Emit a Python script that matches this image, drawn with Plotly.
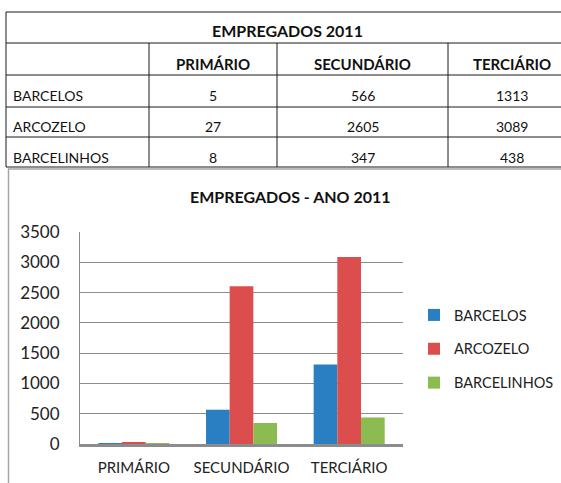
import plotly.graph_objects as go

# ---- data ----
categories = ["PRIMÁRIO", "SECUNDÁRIO", "TERCIÁRIO"]
series_names = ["BARCELOS", "ARCOZELO", "BARCELINHOS"]
barcelos = [5, 566, 1313]
arcozelo = [27, 2605, 3089]
barcelinhos = [8, 347, 438]
series_values = [barcelos, arcozelo, barcelinhos]
table_title = "EMPREGADOS 2011"
chart_title = "EMPREGADOS - ANO 2011"
y_ticks = [0, 500, 1000, 1500, 2000, 2500, 3000, 3500]

colors = ["#2A7FC3", "#DC4E4E", "#8CBB51"]

W, H = 561, 483
FONT = "Lato"


def px(x):
    return x / W


def py(y):
    return 1 - y / H


fig = go.Figure()
for i, (name, vals) in enumerate(zip(series_names, series_values)):
    fig.add_trace(go.Bar(
        x=categories, y=vals, name=name, marker_color=colors[i],
        marker_line_width=0, legendgroup=name,
    ))

shapes = []
annotations = []

# ---- table (grid lines) ----
col_edges = [6, 149, 277, 448, 576]
row_edges = [12, 43, 75, 107, 137, 167]
line_col = "#1a1a1a"
for yy in row_edges:
    shapes.append(dict(type="line", xref="paper", yref="paper",
                       x0=px(6), x1=px(W + 5), y0=py(yy), y1=py(yy),
                       line=dict(color=line_col, width=1)))
shapes.append(dict(type="line", xref="paper", yref="paper",
                   x0=px(6), x1=px(6), y0=py(12), y1=py(167),
                   line=dict(color=line_col, width=1)))
for xx in col_edges[1:4]:
    shapes.append(dict(type="line", xref="paper", yref="paper",
                       x0=px(xx), x1=px(xx), y0=py(43), y1=py(167),
                       line=dict(color=line_col, width=1)))

# chart frame (grey)
shapes.append(dict(type="line", xref="paper", yref="paper",
                   x0=px(8), x1=px(W + 5), y0=py(169), y1=py(169),
                   line=dict(color="#A6A6A6", width=1.5)))
shapes.append(dict(type="line", xref="paper", yref="paper",
                   x0=px(8.5), x1=px(8.5), y0=py(169), y1=py(H + 5),
                   line=dict(color="#A6A6A6", width=1.5)))

# ---- table text ----
tfont = dict(family=FONT, size=14, color="#111111")
hfont = dict(family=FONT, size=15, color="#111111")
annotations.append(dict(text="<b>%s</b>" % table_title, x=px(287), y=py(30),
                        xref="paper", yref="paper", showarrow=False,
                        xanchor="center", yanchor="middle",
                        font=dict(family=FONT, size=16, color="#111111")))
row_text_y = [96, 127, 157]
for j, cat in enumerate(categories):
    cx = (col_edges[j + 1] + col_edges[j + 2]) / 2
    annotations.append(dict(text="<b>%s</b>" % cat, x=px(cx), y=py(64),
                            xref="paper", yref="paper", showarrow=False,
                            xanchor="center", yanchor="middle", font=hfont))
for i, name in enumerate(series_names):
    annotations.append(dict(text=name, x=px(11), y=py(row_text_y[i]),
                            xref="paper", yref="paper", showarrow=False,
                            xanchor="left", yanchor="middle", font=tfont))
    for j in range(len(categories)):
        cx = (col_edges[j + 1] + col_edges[j + 2]) / 2
        annotations.append(dict(text=str(series_values[i][j]), x=px(cx),
                                y=py(row_text_y[i]), xref="paper", yref="paper",
                                showarrow=False, xanchor="center",
                                yanchor="middle", font=tfont))

# chart title
annotations.append(dict(text="<b>%s</b>" % chart_title, x=px(290), y=py(196),
                        xref="paper", yref="paper", showarrow=False,
                        xanchor="center", yanchor="middle",
                        font=dict(family=FONT, size=16, color="#111111")))

fig.update_layout(
    width=W, height=H, autosize=False,
    margin=dict(l=0, r=0, t=0, b=0, autoexpand=False),
    paper_bgcolor="white", plot_bgcolor="white",
    barmode="group", bargap=0.34, bargroupgap=0,
    font=dict(family=FONT, size=15, color="#222222"),
    shapes=shapes, annotations=annotations,
    showlegend=True,
    legend=dict(x=px(414), y=py(299), xanchor="left", yanchor="top",
                traceorder="grouped", tracegroupgap=12,
                font=dict(family=FONT, size=14.5, color="#222222"),
                bgcolor="rgba(0,0,0,0)", borderwidth=0),
    xaxis=dict(domain=[px(80), px(403)], showgrid=False, zeroline=False,
               showline=True, linecolor="#8C8C8C", linewidth=2.5,
               layer="above traces",
               ticks="", ticklabelstandoff=8, automargin=False,
               tickfont=dict(family=FONT, size=15, color="#222222")),
    yaxis=dict(domain=[py(444), py(232)], range=[0, 3500],
               tickvals=y_ticks, showgrid=True, gridcolor="#8C8C8C",
               gridwidth=1, zeroline=False,
               showline=True, linecolor="#8C8C8C",
               linewidth=1, ticks="", ticklabelstandoff=16,
               automargin=False,
               tickfont=dict(family=FONT, size=17, color="#222222")),
)

fig.write_html("out.html", config={"displayModeBar": False},
               post_script="document.body.style.margin='0';")
